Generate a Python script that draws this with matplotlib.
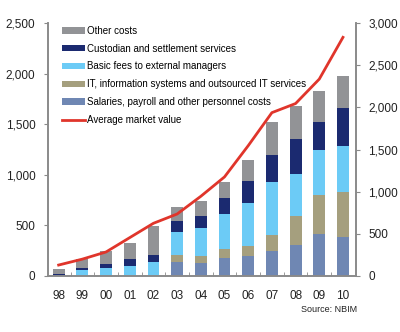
import matplotlib
matplotlib.use("Agg")
import matplotlib.pyplot as plt
import numpy as np

plt.rcParams['font.family'] = ['Liberation Sans', 'DejaVu Sans']

# Management costs (NOK millions) by component, and average market value (NOK billions)
years = ['98', '99', '00', '01', '02', '03', '04', '05', '06', '07', '08', '09', '10']
salaries = [0, 0, 0, 0, 0, 140, 133, 180, 200, 247, 303, 418, 390]
it_services = [0, 0, 0, 0, 0, 65, 66, 86, 93, 158, 290, 382, 440]
external_fees = [0, 60, 83, 100, 135, 233, 272, 347, 431, 520, 418, 445, 451]
custodian = [18, 23, 35, 65, 77, 109, 122, 158, 218, 274, 346, 280, 376]
other_costs = [52, 88, 132, 158, 285, 133, 151, 161, 204, 326, 326, 306, 319]
market_value = [130, 200, 285, 455, 625, 735, 945, 1175, 1545, 1937, 2045, 2335, 2830]

series = [
    ('Salaries, payroll and other personnel costs', salaries, '#6f87b3'),
    ('IT, information systems and outsourced IT services', it_services, '#a59f7e'),
    ('Basic fees to external managers', external_fees, '#6ccbf6'),
    ('Custodian and settlement services', custodian, '#1b2a70'),
    ('Other costs', other_costs, '#929396'),
]

fig = plt.figure(figsize=(4.0, 3.32), dpi=100)
ax = fig.add_axes([48 / 400, 56 / 332, 308 / 400, 253 / 332])
ax2 = ax.twinx()

x = np.arange(len(years))
bottom = np.zeros(len(years))
handles = {}
for label, vals, color in series:
    b = ax.bar(x, vals, width=0.5, bottom=bottom, color=color, label=label, zorder=2)
    handles[label] = b
    bottom += np.array(vals)

line, = ax2.plot(x, market_value, color='#e0352b', lw=2.0, label='Average market value')

ax.set_xlim(-0.45, 12.55)
ax.set_ylim(0, 2500)
ax2.set_ylim(0, 3000)
ax.set_yticks(np.arange(0, 2501, 500))
ax2.set_yticks(np.arange(0, 3001, 500))
ax.set_yticklabels([f'{v:,}' for v in range(0, 2501, 500)])
ax2.set_yticklabels([f'{v:,}' for v in range(0, 3001, 500)])

ax.set_xticks(x)
ax.set_xticklabels(years)
ax.set_xticks(np.arange(0.5, 12, 1), minor=True)
ax.tick_params(axis='x', which='major', length=0, pad=10, labelsize=8.5, colors='#222222')
ax.tick_params(axis='x', which='minor', length=3, direction='in', color='#8a8a8a')
ax.tick_params(axis='y', length=3, color='#8a8a8a', labelsize=8.5, labelcolor='#222222', pad=6)
ax2.tick_params(axis='y', length=3, color='#8a8a8a', labelsize=8.5, labelcolor='#222222', pad=6)

for a in (ax, ax2):
    a.spines['top'].set_visible(False)
    for s in ('left', 'right', 'bottom'):
        a.spines[s].set_color('#8a8a8a')
        a.spines[s].set_linewidth(1.2)

order = ['Other costs', 'Custodian and settlement services', 'Basic fees to external managers',
         'IT, information systems and outsourced IT services',
         'Salaries, payroll and other personnel costs']
leg = ax.legend([handles[k] for k in order] + [line], order + ['Average market value'],
                loc='upper left', bbox_to_anchor=(58 / 400, 310 / 332),
                bbox_transform=fig.transFigure, frameon=False, fontsize=7,
                handlelength=2.4, handleheight=0.6, handletextpad=0.2,
                labelspacing=0.8, borderaxespad=0)
leg.set_zorder(5)

fig.text(357 / 400, 22 / 332, 'Source: NBIM', fontsize=6.5, ha='right', va='center', color='#222222')

fig.savefig('out.png', dpi=100)
